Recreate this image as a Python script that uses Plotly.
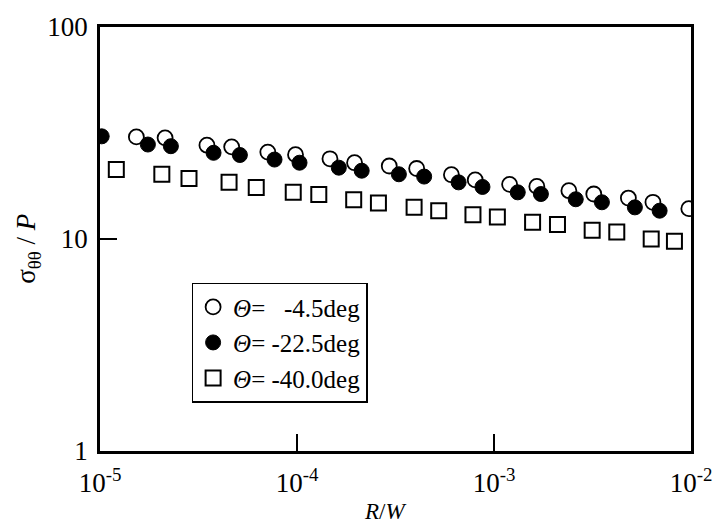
import plotly.graph_objects as go

# Data
x_open = [1.53e-5, 2.14e-5, 3.49e-5, 4.66e-5, 7.11e-5, 9.83e-5, 1.47e-4, 1.96e-4, 2.94e-4, 4.05e-4,
          6.08e-4, 8.03e-4, 1.20e-3, 1.65e-3, 2.40e-3, 3.21e-3, 4.81e-3, 6.41e-3, 9.75e-3]
y_open = [30.3, 30.0, 27.7, 27.2, 25.7, 25.0, 23.9, 22.9, 22.1, 21.5,
          20.1, 19.0, 18.1, 17.7, 16.9, 16.3, 15.6, 14.9, 13.9]

x_fill = [1.02e-5, 1.75e-5, 2.29e-5, 3.77e-5, 5.13e-5, 7.69e-5, 1.03e-4, 1.63e-4, 2.13e-4, 3.29e-4,
          4.42e-4, 6.61e-4, 8.74e-4, 1.32e-3, 1.73e-3, 2.60e-3, 3.53e-3, 5.19e-3, 6.93e-3]
y_fill = [30.5, 27.9, 27.4, 25.5, 24.9, 23.7, 22.9, 21.7, 21.0, 20.2,
          19.7, 18.5, 17.6, 16.6, 16.3, 15.4, 14.9, 14.1, 13.6]

x_sq = [1.21e-5, 2.06e-5, 2.83e-5, 4.52e-5, 6.21e-5, 9.57e-5, 1.29e-4, 1.94e-4, 2.59e-4, 3.93e-4,
        5.24e-4, 7.82e-4, 1.04e-3, 1.57e-3, 2.10e-3, 3.15e-3, 4.20e-3, 6.28e-3, 8.24e-3]
y_sq = [21.3, 20.2, 19.3, 18.5, 17.5, 16.6, 16.2, 15.3, 14.8, 14.1,
        13.6, 13.0, 12.7, 12.0, 11.7, 11.0, 10.8, 10.0, 9.76]

names = ["<i>\u0398</i>=\u00a0\u00a0\u00a0-4.5deg", "<i>\u0398</i>= -22.5deg", "<i>\u0398</i>= -40.0deg"]

x_tickvals = [1e-5, 1e-4, 1e-3, 1e-2]
x_ticktext = ["10<sup>-5</sup>", "10<sup>-4</sup>", "10<sup>-3</sup>", "10<sup>-2</sup>"]
y_tickvals = [1, 10, 100]
y_ticktext = ["1", "10", "100"]

FONT = "Liberation Serif"

fig = go.Figure()
fig.add_trace(go.Scatter(x=x_open, y=y_open, mode="markers", name=names[0],
                         marker=dict(symbol="circle", size=15, color="white",
                                     line=dict(color="black", width=1.8))))
fig.add_trace(go.Scatter(x=x_fill, y=y_fill, mode="markers", name=names[1],
                         marker=dict(symbol="circle", size=15, color="black",
                                     line=dict(color="black", width=1))))
fig.add_trace(go.Scatter(x=x_sq, y=y_sq, mode="markers", name=names[2],
                         marker=dict(symbol="square", size=15, color="white",
                                     line=dict(color="black", width=2))))

fig.update_layout(
    width=724, height=524,
    margin=dict(l=100, r=25, t=23, b=73),
    paper_bgcolor="white", plot_bgcolor="white",
    font=dict(family=FONT, color="black", size=27),
    showlegend=True,
    legend=dict(x=0.155, y=0.397, xanchor="left", yanchor="top",
                bordercolor="black", borderwidth=1.5, bgcolor="white",
                font=dict(family=FONT, size=25, color="black"),
                itemwidth=30),
    xaxis=dict(type="log", range=[-5, -2], tickvals=x_tickvals, ticktext=x_ticktext,
               ticks="inside", ticklen=17, tickwidth=2, tickcolor="black",
               showline=True, linecolor="black", linewidth=2.5, mirror=True,
               showgrid=False, zeroline=False, ticklabelstandoff=6,
               tickfont=dict(family=FONT, size=27)),
    yaxis=dict(type="log", range=[0, 2], tickvals=y_tickvals, ticktext=y_ticktext,
               ticks="inside", ticklen=17, tickwidth=2, tickcolor="black",
               showline=True, linecolor="black", linewidth=2.5, mirror=True,
               showgrid=False, zeroline=False, ticklabelstandoff=4,
               tickfont=dict(family=FONT, size=27)),
    annotations=[
        dict(text="<i>R</i>/<i>W</i>", xref="paper", yref="paper", x=0.4825, y=-0.143,
             xanchor="center", yanchor="middle", showarrow=False,
             font=dict(family=FONT, size=23)),
        dict(text="\u03c3<sub>\u03b8\u03b8</sub> / <i>P</i>", xref="paper", yref="paper",
             x=-0.122, y=0.4766, xanchor="center", yanchor="middle", textangle=-90,
             showarrow=False, font=dict(family=FONT, size=27)),
    ],
)

fig.write_html("out.html")
